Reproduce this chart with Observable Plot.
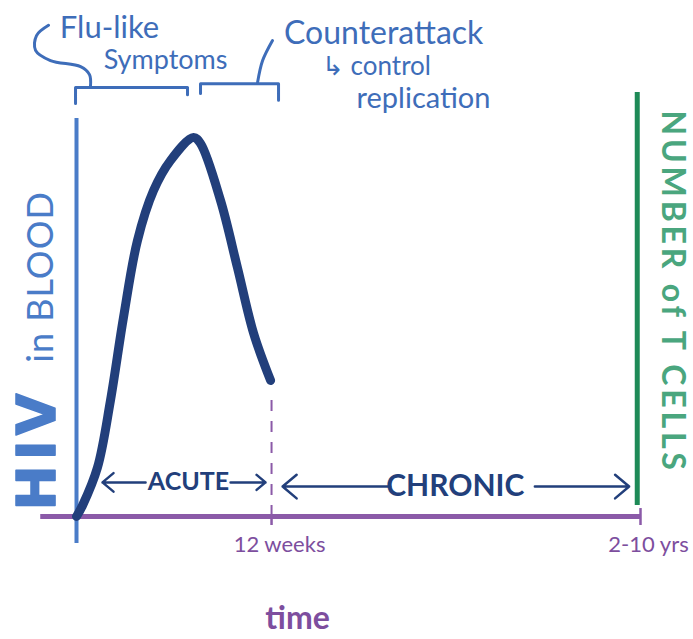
<!DOCTYPE html>
<html>
<head>
<meta charset="utf-8">
<script src="https://cdn.jsdelivr.net/npm/d3@7"></script>
<script src="https://cdn.jsdelivr.net/npm/@observablehq/plot@0.6"></script>
<style>
  html, body { margin: 0; padding: 0; background: #fff; }
</style>
</head>
<body>
<div id="chart"></div>
<script>
// ---- data (x: weeks-ish time units, y: HIV level as % of peak) ----
const weeks    = [0, 0.37, 1.29, 2.09, 2.89, 3.75, 4.74, 5.78, 7.2, 7.63, 8.86, 9.9, 10.9, 11.94];
const hivLevel = [0, 2.9, 12.9, 30.6, 52.5, 72.8, 86, 93.9, 100, 98.4, 83.4, 65.7, 48.3, 35.9];

const tickValues = [12, 34.7];
const tickLabels = ["12 weeks", "2-10 yrs"];

const phaseNames = ["ACUTE", "CHRONIC"];
const phaseMid   = [6.89, 23.3];
const phaseY     = [9.0, 7.9];
const phaseSize  = [25, 30];

// arrows around phase names: [x1, x2, y]
const arrowX1 = [4.25, 9.48, 19.3, 28.2];
const arrowX2 = [1.6, 11.63, 12.68, 34.0];
const arrowY  = [9.0, 9.0, 7.9, 7.9];

// annotation brackets (data units)
const fluBracketX = [-0.06, -0.06, 6.83, 6.83];
const fluBracketY = [109, 113.2, 113.2, 111.3];
const fluStemX = [0.86, 0.8, 0.25, -1.6, -2.52, -2.46, -1.72];
const fluStemY = [113.5, 116.6, 118.7, 120.3, 123.0, 126.9, 129.6];
const ctrBracketX = [7.63, 7.63, 12.43, 12.43];
const ctrBracketY = [111.6, 114.2, 114.2, 109.8];
const ctrStemX = [11.14, 11.45, 12.06];
const ctrStemY = [114.5, 120.3, 125.6];

const curve = weeks.map((w, i) => ({w, v: hivLevel[i]}));
const zip = (xs, ys) => xs.map((x, i) => ({x, y: ys[i]}));
const arrows = arrowX1.map((x1, i) => ({x1, x2: arrowX2[i], y: arrowY[i]}));

const blue = "#4a7cc8", textBlue = "#3e6db9", navy = "#223f7b";
const purple = "#8b5aa8", textPurple = "#7d4e9e";
const green = "#1e8a57", textGreen = "#4aa67e";
const font = "Lato, 'Open Sans', sans-serif";

const chart = Plot.plot({
  width: 693,
  height: 639,
  marginLeft: 76,
  marginRight: 53,
  marginTop: 137,
  marginBottom: 123,
  style: {fontFamily: font, background: "#fff"},
  x: {domain: [0, 34.7]},
  y: {domain: [0, 100], axis: null},
  marks: [
    // left (HIV) axis line
    Plot.ruleX([0], {y1: -7.1, y2: 105, stroke: blue, strokeWidth: 4}),
    // right (T cells) axis line
    Plot.ruleX([34.5], {y1: 2.9, y2: 111.9, stroke: green, strokeWidth: 5}),
    // time axis line
    Plot.ruleY([0], {x1: -2.2, x2: 34.7, stroke: purple, strokeWidth: 5}),
    Plot.ruleX([34.7], {y1: 0, y2: 2.1, stroke: purple, strokeWidth: 2.5}),
    // 12-week boundary
    Plot.ruleX([12], {y1: 0, y2: 33.2, stroke: purple, strokeWidth: 2, strokeDasharray: "11,10"}),
    Plot.axisX(tickValues, {tickSize: 9, stroke: purple, strokeWidth: 2.5, fill: "none", label: null}),
    Plot.axisX(tickValues, {
      tickSize: 0, tickPadding: 20, tickFormat: (d, i) => tickLabels[i],
      fontSize: 22, fill: textPurple, dx: 8, label: null
    }),
    Plot.text(["time"], {x: 13.6, y: -26.9, text: d => d, fontSize: 32, fontWeight: "bold", fill: textPurple}),
    // HIV curve
    Plot.line(curve, {x: "w", y: "v", curve: "catmull-rom", stroke: navy, strokeWidth: 9,
      strokeLinecap: "round", strokeLinejoin: "round"}),
    // phases
    Plot.arrow(arrows, {x1: "x1", x2: "x2", y1: "y", y2: "y", stroke: navy, strokeWidth: 2.5,
      headLength: 11, headAngle: 80}),
    Plot.text(phaseNames, {x: (d, i) => phaseMid[i], y: (d, i) => phaseY[i], text: d => d,
      fontSize: (d, i) => phaseSize[i], fontWeight: "bold", fill: navy}),
    // axis titles
    Plot.text(["HIV"], {x: -2.4, y: 1.6, text: d => d, rotate: -90, textAnchor: "start",
      lineAnchor: "middle", fontSize: 54, fontWeight: "bold", fontFamily: "'DejaVu Sans', sans-serif",
      fill: blue, stroke: blue, strokeWidth: 1.5}),
    Plot.text(["in BLOOD"], {x: -2.13, y: 40.6, text: d => d, rotate: -90, textAnchor: "start",
      lineAnchor: "middle", fontSize: 36, fill: blue}),
    Plot.text(["NUMBER of T CELLS"], {x: 36.68, y: 107.1, text: d => d, rotate: 90, textAnchor: "start",
      lineAnchor: "middle", fontSize: 32, fontWeight: "bold", fill: textGreen}),
    // annotations
    Plot.line(zip(fluBracketX, fluBracketY), {x: "x", y: "y", stroke: textBlue, strokeWidth: 3, strokeLinejoin: "round", strokeLinecap: "round"}),
    Plot.line(zip(fluStemX, fluStemY), {x: "x", y: "y", curve: "catmull-rom", stroke: textBlue, strokeWidth: 3, strokeLinecap: "round"}),
    Plot.line(zip(ctrBracketX, ctrBracketY), {x: "x", y: "y", stroke: textBlue, strokeWidth: 3, strokeLinejoin: "round", strokeLinecap: "round"}),
    Plot.line(zip(ctrStemX, ctrStemY), {x: "x", y: "y", curve: "catmull-rom", stroke: textBlue, strokeWidth: 3, strokeLinecap: "round"}),
    Plot.text(["Flu-like"], {x: 2.03, y: 129.0, text: d => d, fontSize: 31, fill: textBlue}),
    Plot.text(["Symptoms"], {x: 5.48, y: 120.3, text: d => d, fontSize: 27, fill: textBlue}),
    Plot.text(["Counterattack"], {x: 18.9, y: 127.4, text: d => d, fontSize: 32, fill: textBlue}),
    Plot.text(["↳ control"], {x: 15.1, y: 118.7, text: d => d, textAnchor: "start", fontSize: 26, fill: textBlue}),
    Plot.text(["replication"], {x: 21.35, y: 110.3, text: d => d, fontSize: 29, fill: textBlue})
  ]
});
const sel = d3.select(chart).selectAll("text");
sel.filter(function () { return this.textContent === "NUMBER of T CELLS"; }).attr("letter-spacing", 3.8);
sel.filter(function () { return this.textContent === "HIV"; }).attr("letter-spacing", 5);
sel.filter(function () { return this.textContent === "in BLOOD"; }).attr("letter-spacing", 1);
document.getElementById("chart").appendChild(chart);
</script>
</body>
</html>
